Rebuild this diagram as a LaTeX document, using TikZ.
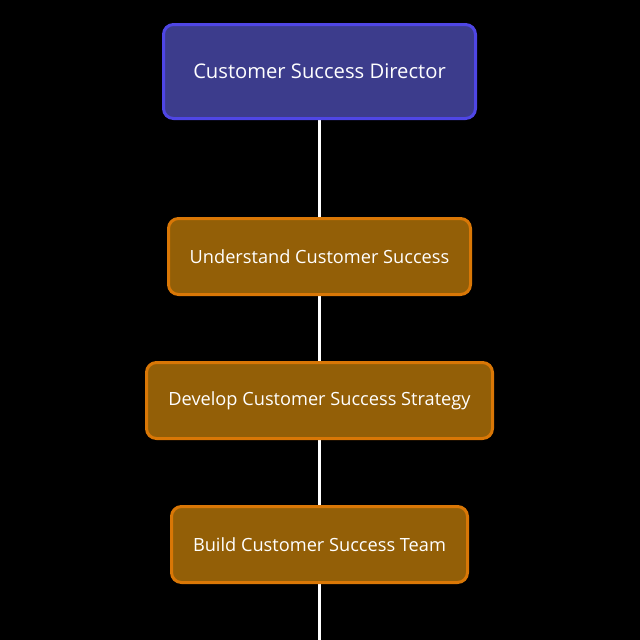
\documentclass[tikz,border=0pt]{standalone}
\usepackage{fontspec}
\setmainfont{Open Sans}
\usetikzlibrary{backgrounds}
\definecolor{bluefill}{HTML}{3C3C8C}
\definecolor{blueedge}{HTML}{4F46E5}
\definecolor{orfill}{HTML}{935F07}
\definecolor{oredge}{HTML}{D97706}
\begin{document}
\begin{tikzpicture}[x=1pt,y=-1pt,
  box/.style={draw, line width=3pt, rounded corners=10pt, text=white, inner sep=0pt, align=center},
  topbox/.style={box, fill=bluefill, draw=blueedge, minimum width=312pt, minimum height=94pt, font=\fontsize{20.2}{24}\selectfont},
  stepbox/.style={box, fill=orfill, draw=oredge, minimum height=76pt, font=\fontsize{18.2}{22}\selectfont},
  link/.style={draw=white, line width=3pt}]
\useasboundingbox (0,0) rectangle (640,640);
\node[topbox] (dir) at (319.5,71.5) {\raisebox{-1pt}{Customer Success Director}};
\node[stepbox, minimum width=302pt] (s1) at (319.5,256.5) {\raisebox{-1pt}{Understand Customer Success}};
\node[stepbox, minimum width=346pt] (s2) at (319.5,400.5) {\raisebox{-1pt}{Develop Customer Success Strategy}};
\node[stepbox, minimum width=296pt] (s3) at (319.5,544.5) {\raisebox{-1pt}{Build Customer Success Team}};
\coordinate (end) at (319.5,640);
\begin{pgfonlayer}{background}
\fill[black] (0,0) rectangle (640,640);
\draw[link] (dir.center) -- (end);
\end{pgfonlayer}
\end{tikzpicture}
\end{document}
